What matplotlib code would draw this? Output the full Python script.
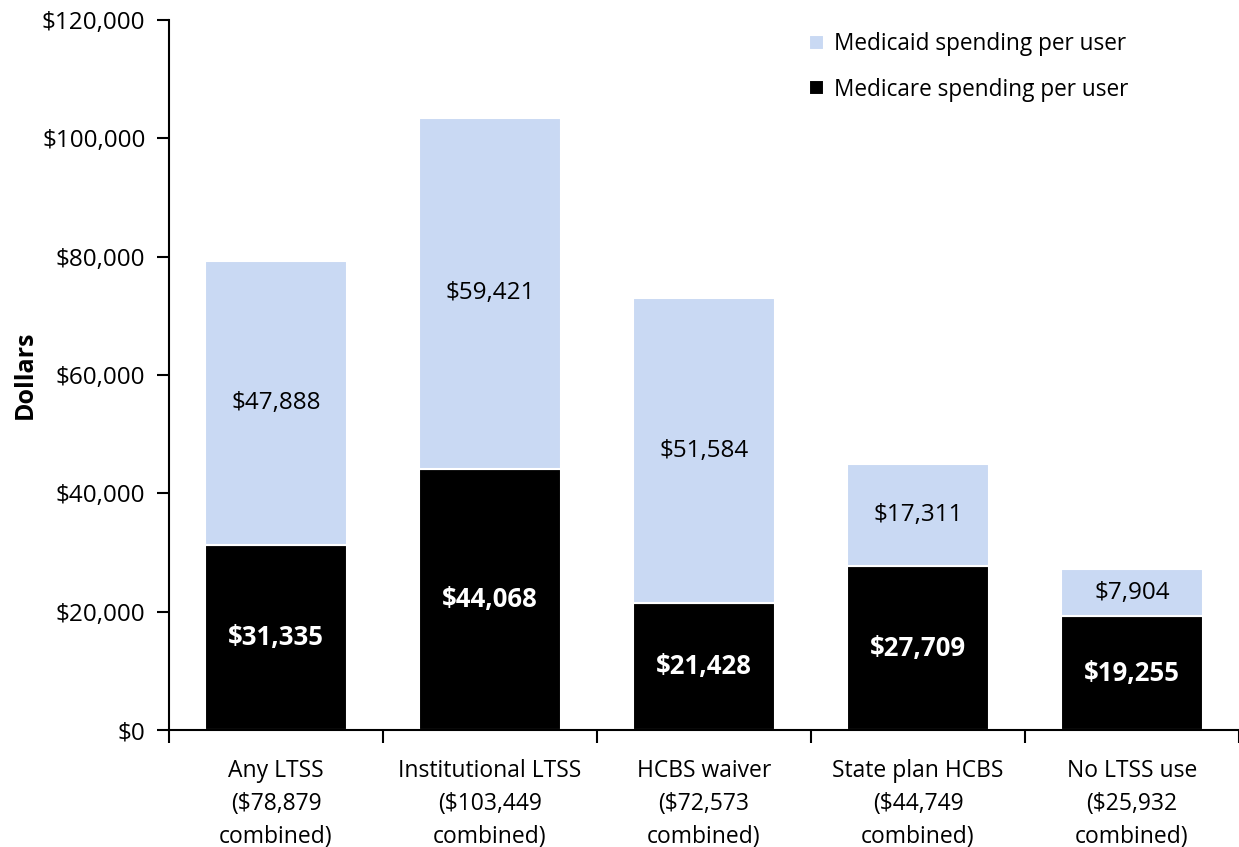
import numpy as np
import matplotlib.pyplot as plt
from matplotlib.ticker import FuncFormatter, FixedLocator

plt.rcParams['font.family'] = ['Open Sans', 'DejaVu Sans']

categories = ['Any LTSS\n($78,879\ncombined)', 'Institutional LTSS\n($103,449\ncombined)',
              'HCBS waiver\n($72,573\ncombined)', 'State plan HCBS\n($44,749\ncombined)',
              'No LTSS use\n($25,932\ncombined)']
medicare = [31335, 44068, 21428, 27709, 19255]
medicaid = [47888, 59421, 51584, 17311, 7904]

medicaid_color = '#c9d9f3'

fig = plt.figure(figsize=(12.39, 8.47), dpi=100)
ax = fig.add_axes([169/1239, 117/847, 1 - 169/1239, 710/847])

x = np.arange(len(categories))
w = 0.66
ax.bar(x, medicare, w, color='black', edgecolor='white', linewidth=1.5,
       label='Medicare spending per user')
ax.bar(x, medicaid, w, bottom=medicare, color=medicaid_color, edgecolor='white',
       linewidth=1.5, label='Medicaid spending per user')

for i in range(len(x)):
    ax.text(x[i], medicare[i] / 2, '${:,}'.format(medicare[i]), ha='center', va='center',
            color='white', fontsize=18.5, fontweight='bold')
    ax.text(x[i], medicare[i] + medicaid[i] / 2, '${:,}'.format(medicaid[i]),
            ha='center', va='center', color='black', fontsize=17.5)

ax.set_xlim(-0.5, 4.5)
ax.set_ylim(0, 120000)
ax.set_yticks(np.arange(0, 120001, 20000))
ax.yaxis.set_major_formatter(FuncFormatter(lambda v, p: '${:,.0f}'.format(v)))
ax.set_xticks(x)
ax.set_xticklabels(categories, fontsize=16.5, linespacing=1.5)
ax.tick_params(axis='x', which='major', length=0, pad=21)
ax.xaxis.set_minor_locator(FixedLocator(np.arange(-0.5, 5, 1)))
ax.tick_params(axis='x', which='minor', length=9, width=1.5, direction='out')
ax.tick_params(axis='y', labelsize=17.5, length=9, width=1.5, direction='out', pad=8)

for s in ['top', 'right']:
    ax.spines[s].set_visible(False)
ax.spines['left'].set_linewidth(1.5)
ax.spines['bottom'].set_linewidth(1.5)

ax.set_ylabel('Dollars', fontsize=18, fontweight='bold', labelpad=3)

handles, labels = ax.get_legend_handles_labels()
ax.legend(handles[::-1], labels[::-1], loc='upper left', bbox_to_anchor=(0.598, 0.983),
          frameon=False, fontsize=16.3, handlelength=0.65, handleheight=0.65,
          handletextpad=0.45, labelspacing=0.95, borderpad=0, borderaxespad=0)

fig.savefig('out.png', dpi=100)
